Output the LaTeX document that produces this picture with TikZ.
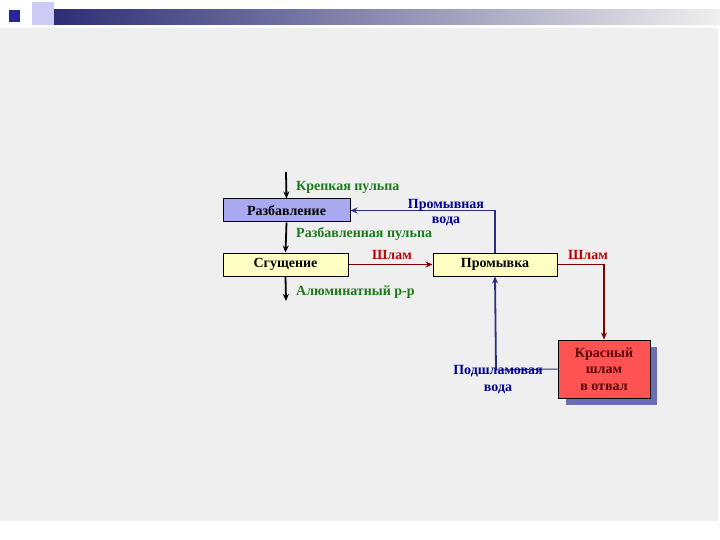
\documentclass[tikz,border=0pt]{standalone}
\usepackage{fontspec}
\setmainfont{Liberation Serif}
\usetikzlibrary{arrows.meta,positioning,calc}
\definecolor{PageGray}{HTML}{EFEFEF}
\definecolor{Navy}{HTML}{2E2E80}
\definecolor{TxtBlue}{HTML}{000099}
\definecolor{TxtGreen}{HTML}{1A7A1A}
\definecolor{TxtRed}{HTML}{C00000}
\definecolor{Sludge}{HTML}{800000}
\definecolor{BoxBlue}{HTML}{A9A9F0}
\definecolor{BoxYellow}{HTML}{FFFFC4}
\definecolor{BoxRed}{HTML}{FF5252}
\definecolor{Shadow}{HTML}{6E6EB4}
\newcommand{\StageBox}[5]{%
  \node[stagebox,fill=#4,minimum width=#5] (#1) at (#2) {#3};%
}
\begin{document}
\begin{tikzpicture}[x=1pt,y=-1pt,
  stagebox/.style={draw=black,line width=1pt,minimum height=23pt,inner sep=0pt,font=\bfseries\fontsize{14}{15}\selectfont},
  lbl/.style={font=\bfseries\fontsize{14}{15}\selectfont,inner sep=0pt,align=center},
  flow/.style={-{Stealth[length=7pt,width=6pt]},line width=1.8pt}]
\useasboundingbox (0,0) rectangle (720,540);
\fill[white] (0,0) rectangle (720,540);
\fill[PageGray] (0,28) rectangle (718,521);
\shade[left color=Navy!90!black,right color=PageGray] (40,10) rectangle (720,25);
\fill[BoxBlue!60] (32,2) rectangle (54,25);
\fill[Navy!80!blue] (9,10) rectangle (20,22);
\StageBox{raz}{286.5,210.5}{Разбавление}{BoxBlue}{127pt}
\StageBox{sgu}{285.5,264.5}{Сгущение}{BoxYellow}{125pt}
\StageBox{prom}{495,264.5}{Промывка}{BoxYellow}{124pt}
\fill[Shadow] (566,347) rectangle (657,405);
\node[stagebox,fill=BoxRed,minimum width=92pt,minimum height=58pt,align=center,
  text=Sludge!70!black,font=\bfseries\fontsize{14}{16.5}\selectfont] (red) at (604,369) {\rule{0pt}{4pt}Красный\\шлам\\в отвал};
\coordinate (feed) at (286,172);
\coordinate (liquor) at (286,301);
\coordinate (wash) at (496,370);
\draw[flow] (feed) -- (raz.north);
\draw[flow] (raz.south) -- (sgu.north);
\draw[flow] (sgu.south) -- (liquor);
\draw[flow,Navy] (prom.north) |- (raz.east);
\draw[flow,Navy] (wash) -- (prom.south);
\draw[Navy,line width=1pt] (wash) -- (red.west);
\draw[flow,Sludge] (sgu.east) -- (prom.west);
\draw[flow,Sludge] (prom.east) -| (red.north);
\node[lbl,text=TxtGreen,anchor=west] (strong) at (296,187) {Крепкая пульпа};
\node[lbl,text=TxtGreen,anchor=west] (dilute) at (296,234) {Разбавленная пульпа};
\node[lbl,text=TxtGreen,anchor=west] (alum) at (296,292) {Алюминатный р-р};
\node[lbl,text=TxtBlue] (washlbl) at (446,213) {Промывная\\вода};
\node[lbl,text=TxtRed] (mud1) at (392,255) {Шлам};
\node[lbl,text=TxtRed] (mud2) at (588,255) {Шлам};
\node[lbl,text=TxtBlue,font=\bfseries\fontsize{14}{17}\selectfont] (sublbl) at (498,380) {Подшламовая\\вода};
\end{tikzpicture}
\end{document}
